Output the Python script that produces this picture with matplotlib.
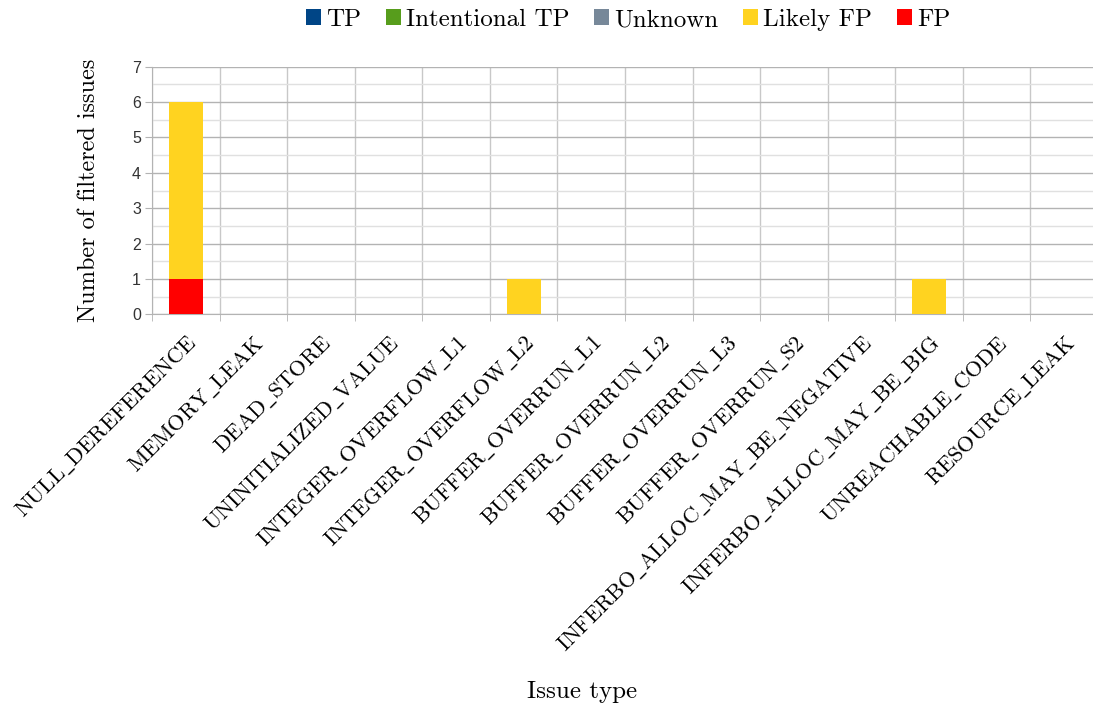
import matplotlib
matplotlib.use("Agg")
import matplotlib.pyplot as plt
from matplotlib.ticker import MultipleLocator, FixedLocator
from matplotlib.patches import Patch
import numpy as np

categories = ["NULL_DEREFERENCE", "MEMORY_LEAK", "DEAD_STORE", "UNINITIALIZED_VALUE",
              "INTEGER_OVERFLOW_L1", "INTEGER_OVERFLOW_L2", "BUFFER_OVERRUN_L1",
              "BUFFER_OVERRUN_L2", "BUFFER_OVERRUN_L3", "BUFFER_OVERRUN_S2",
              "INFERBO_ALLOC_MAY_BE_NEGATIVE", "INFERBO_ALLOC_MAY_BE_BIG",
              "UNREACHABLE_CODE", "RESOURCE_LEAK"]
tp = [0, 0, 0, 0, 0, 0, 0, 0, 0, 0, 0, 0, 0, 0]
intentional_tp = [0, 0, 0, 0, 0, 0, 0, 0, 0, 0, 0, 0, 0, 0]
unknown = [0, 0, 0, 0, 0, 0, 0, 0, 0, 0, 0, 0, 0, 0]
likely_fp = [5, 0, 0, 0, 0, 1, 0, 0, 0, 0, 0, 1, 0, 0]
fp = [1, 0, 0, 0, 0, 0, 0, 0, 0, 0, 0, 0, 0, 0]

series_names = ["TP", "Intentional TP", "Unknown", "Likely FP", "FP"]
series_vals = [tp, intentional_tp, unknown, likely_fp, fp]
colors = ["#004586", "#579d1c", "#778899", "#ffd320", "#ff0000"]

plt.rcParams["mathtext.fontset"] = "cm"
serif = ["cmr10", "DejaVu Serif"]


def tex(s):
    return r"$\mathrm{" + s.replace("_", r"\_").replace(" ", r"\ ") + "}$"


W, H = 1093, 708
fig = plt.figure(figsize=(W / 100, H / 100), dpi=100)
left, right, top, bottom = 152, 1098, 66.7, 314.3
ax = fig.add_axes([left / W, 1 - bottom / H, (right - left) / W, (bottom - top) / H])

x = np.arange(len(categories))
base = np.zeros(len(categories))
# stack from bottom: FP, Likely FP, Unknown, Intentional TP, TP
for name, vals, col in reversed(list(zip(series_names, series_vals, colors))):
    v = np.array(vals, dtype=float)
    ax.bar(x, v, width=0.5, bottom=base, color=col, zorder=3, linewidth=0)
    base += v

ax.set_xlim(-0.5, len(categories) - 0.5)
ax.set_ylim(0, 7)
ax.yaxis.set_major_locator(MultipleLocator(1))
ax.yaxis.set_minor_locator(MultipleLocator(0.5))
ax.grid(axis="y", which="major", color="#b3b3b3", linewidth=1.0, zorder=0)
ax.grid(axis="y", which="minor", color="#e0e0e0", linewidth=1.0, zorder=0)

bounds = np.arange(len(categories) + 1) - 0.5
for b in bounds:
    ax.axvline(b, color="#c8c8c8", linewidth=1.0, zorder=1)

ax.set_xticks(x)
ax.set_xticklabels([tex(c) for c in categories], rotation=45, ha="right",
                   rotation_mode="anchor", fontsize=16)
ax.xaxis.set_minor_locator(FixedLocator(bounds))
ax.tick_params(axis="x", which="major", length=0, pad=13)
ax.tick_params(axis="x", which="minor", length=5, color="#b3b3b3", direction="out")
ax.tick_params(axis="y", which="major", length=5, color="#b3b3b3", labelsize=11.5,
               labelcolor="#333333", pad=3)
ax.tick_params(axis="y", which="minor", length=0)
for lab in ax.get_yticklabels():
    lab.set_family("Liberation Sans")

for s in ["top", "right"]:
    ax.spines[s].set_visible(False)
ax.spines["left"].set_color("#b3b3b3")
ax.spines["bottom"].set_color("#b3b3b3")

ax.set_ylabel("Number of filtered issues", family=serif, fontsize=17.5, labelpad=23)
fig.text(582 / W, 1 - 692 / H, "Issue type", family=serif, fontsize=18,
         ha="center", va="center")

handles = [Patch(facecolor=c, edgecolor="none") for c in colors]
fig.legend(handles, series_names, loc="center", bbox_to_anchor=(628 / W, 1 - 20 / H),
           ncol=5, frameon=False, prop={"family": serif, "size": 18},
           handlelength=0.6, handleheight=0.6, handletextpad=0.2, columnspacing=1.0)

fig.savefig("out.png", dpi=100)
